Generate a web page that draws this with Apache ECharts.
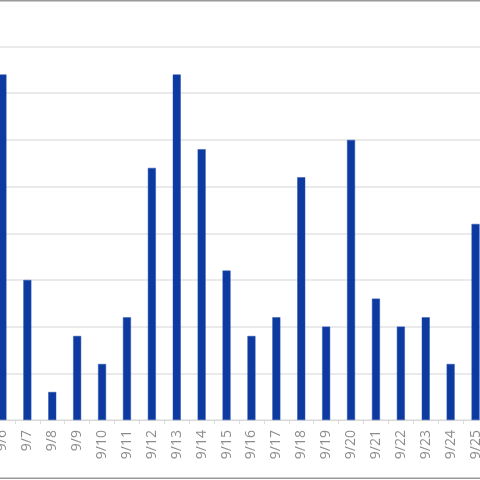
<!DOCTYPE html>
<html>
<head>
<meta charset="utf-8">
<script src="https://cdn.jsdelivr.net/npm/echarts@6/dist/echarts.min.js"></script>
<style>
  html, body { margin: 0; padding: 0; background: #fff; overflow: hidden; }
  /* the plot is cropped on both sides in the reference, so the canvas is wider than the window */
  #main { position: absolute; left: -10px; top: 0; width: 498px; height: 480px; }
</style>
</head>
<body>
<div id="main"></div>
<script>
// dates on the x axis
var days = ['9/6', '9/7', '9/8', '9/9', '9/10', '9/11', '9/12', '9/13', '9/14', '9/15',
            '9/16', '9/17', '9/18', '9/19', '9/20', '9/21', '9/22', '9/23', '9/24', '9/25'];
// daily counts
var counts = [37, 15, 3, 9, 6, 11, 27, 37, 29, 16, 9, 11, 26, 10, 30, 13, 10, 11, 6, 21];

var myChart = echarts.init(document.getElementById('main'));

var option = {
  animation: false,
  backgroundColor: '#fff',
  grid: {
    left: 0,
    right: 0,
    top: 46.5,
    bottom: 60
  },
  xAxis: {
    type: 'category',
    data: days,
    axisLine: { lineStyle: { color: '#d9d9d9', width: 1 } },
    axisTick: { show: true, length: 4, lineStyle: { color: '#d9d9d9' } },
    axisLabel: {
      rotate: 90,
      interval: 0,
      margin: 10,
      color: '#8c8c8c',
      fontSize: 14,
      fontFamily: 'Open Sans'
    }
  },
  yAxis: {
    type: 'value',
    min: 0,
    max: 40,
    interval: 5,
    axisLabel: { show: false },
    axisLine: { show: false },
    axisTick: { show: false },
    splitLine: { lineStyle: { color: '#e3e3e3', width: 1.5 } }
  },
  series: [{
    type: 'bar',
    data: counts,
    barWidth: 8,
    itemStyle: { color: '#0c3aa0', borderColor: '#2a52b0', borderWidth: 0.5 }
  }],
  graphic: [
    { type: 'rect', shape: { x: 0, y: 0, width: 498, height: 1.5 }, style: { fill: '#9a9a9a' } },
    { type: 'rect', shape: { x: 0, y: 477.5, width: 498, height: 1.5 }, style: { fill: '#9a9a9a' } }
  ]
};

myChart.setOption(option);
</script>
</body>
</html>
